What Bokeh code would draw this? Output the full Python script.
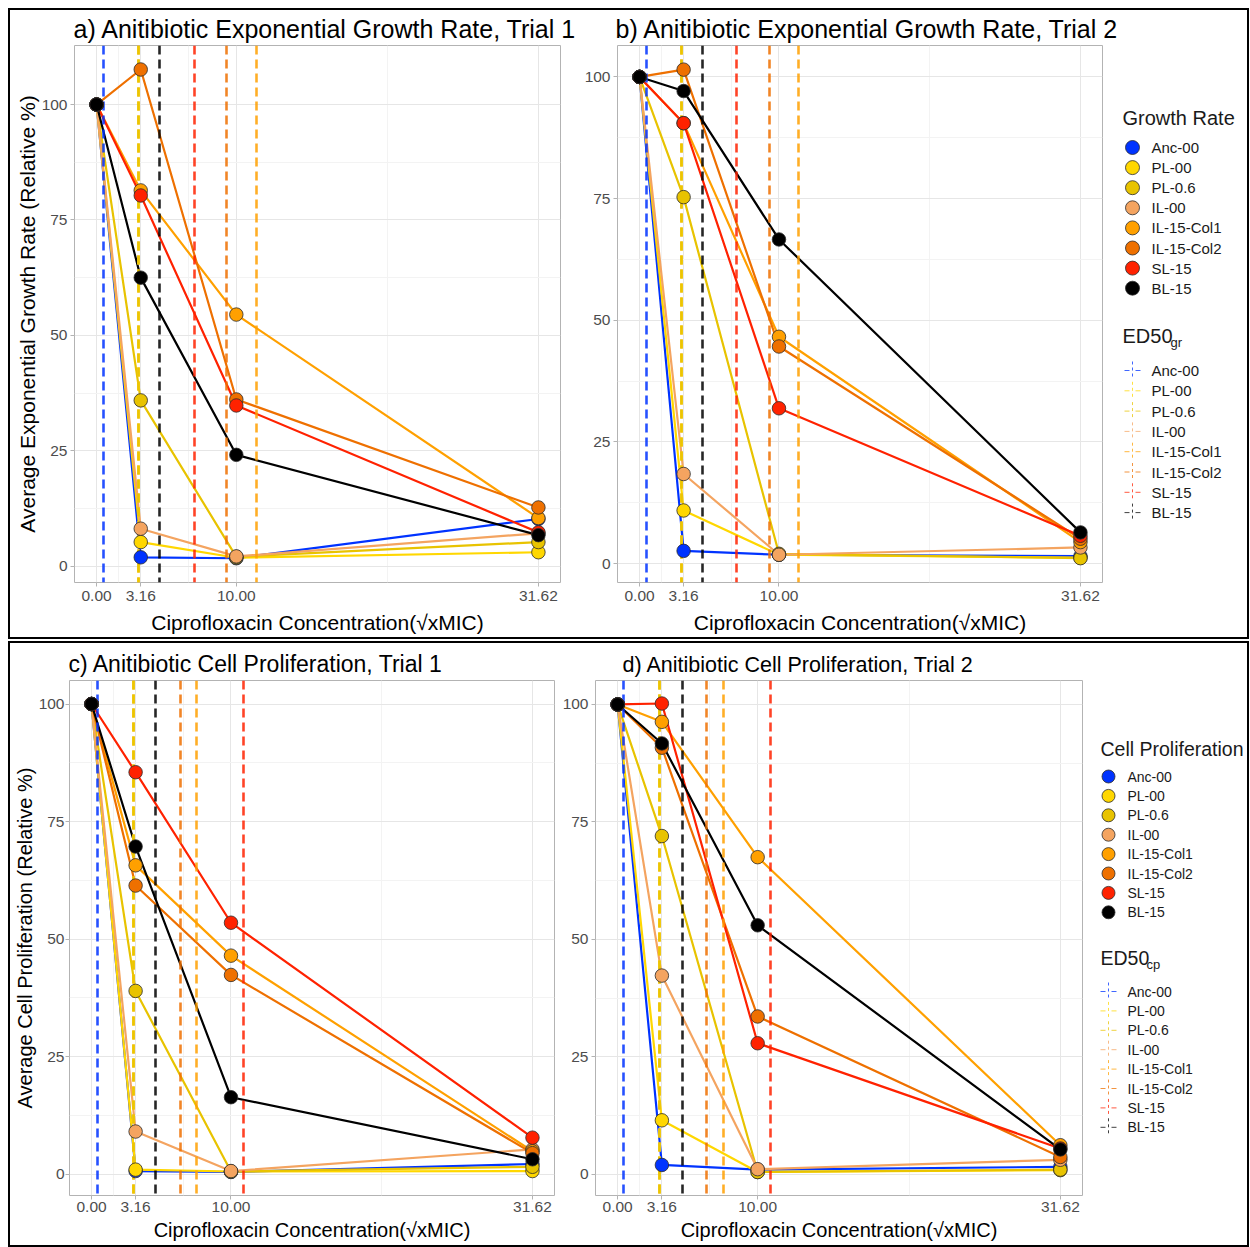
from bokeh.plotting import figure
from bokeh.models import Range1d, FixedTicker, Row, Column, ColumnDataSource, NumeralTickFormatter
from bokeh.embed import file_html
from bokeh.resources import INLINE
from bokeh.core.properties import value

# ---------------- data ----------------
strains = ["Anc-00", "PL-00", "PL-0.6", "IL-00", "IL-15-Col1", "IL-15-Col2", "SL-15", "BL-15"]
colors = ["#0033FF", "#FFD700", "#E8C300", "#F4A460", "#FFA000", "#EE7000", "#FF2200", "#000000"]
conc = [0.0, 3.16, 10.0, 31.62]
x_minor = [1.58, 6.58, 20.81]
y_ticks = [0, 25, 50, 75, 100]
y_minor = [12.5, 37.5, 62.5, 87.5]

# growth rate (relative %), one row per strain, columns = conc
gr_trial1 = [
    [100, 1.9, 1.7, 10.2],
    [100, 5.2, 1.8, 3.0],
    [100, 35.9, 2.0, 5.2],
    [100, 8.1, 2.1, 7.1],
    [100, 81.4, 54.5, 10.4],
    [100, 107.6, 36.1, 12.7],
    [100, 80.3, 34.8, 7.3],
    [100, 62.5, 24.1, 6.7],
]
gr_trial2 = [
    [100, 2.6, 1.8, 1.5],
    [100, 10.9, 1.8, 1.2],
    [100, 75.3, 2.0, 1.1],
    [100, 18.4, 1.8, 3.3],
    [100, 90.5, 46.6, 4.4],
    [100, 101.5, 44.6, 5.1],
    [100, 90.5, 31.9, 5.7],
    [100, 97.1, 66.6, 6.4],
]
cp_trial1 = [
    [100, 0.7, 0.5, 2.2],
    [100, 1.0, 0.6, 0.7],
    [100, 39.0, 0.6, 1.6],
    [100, 9.1, 0.7, 5.3],
    [100, 65.7, 46.5, 4.9],
    [100, 61.4, 42.4, 4.5],
    [100, 85.5, 53.5, 7.8],
    [100, 69.7, 16.4, 3.2],
]
cp_trial2 = [
    [100, 2.0, 1.0, 1.6],
    [100, 11.5, 0.5, 0.9],
    [100, 72.0, 0.5, 1.0],
    [100, 42.3, 1.1, 3.1],
    [100, 96.3, 67.5, 6.2],
    [100, 90.8, 33.6, 3.7],
    [100, 100.2, 27.9, 5.5],
    [100, 91.7, 53.0, 5.3],
]
# ED50 (same strain order)
ed50_gr = [0.47, 2.98, 2.98, 2.98, 11.42, 9.33, 6.98, 4.50]
ed50_cp = [0.40, 2.98, 2.98, 2.98, 7.55, 6.35, 10.92, 4.60]

FONT = "Liberation Sans"
XLABEL = "Ciprofloxacin Concentration(\u221axMIC)"
X_START, X_END = -1.581, 33.201


def panel(title, data, ed50, yr, width, height, mbl, mbr, mbt, mbb, ylabel,
          title_size, title_standoff, title_offset, label_size, tick_size,
          tick_standoff, label_standoff, ytick_standoff):
    p = figure(width=width, height=height,
               x_range=Range1d(X_START, X_END), y_range=Range1d(*yr),
               output_backend="svg", toolbar_location=None,
               min_border_left=mbl, min_border_right=mbr,
               min_border_top=mbt, min_border_bottom=mbb,
               background_fill_color="white", border_fill_color="white")
    p.title.text = title
    p.title.text_font = FONT
    p.title.text_font_size = title_size
    p.title.text_font_style = "normal"
    p.title.text_color = "black"
    p.title.standoff = title_standoff
    p.title.offset = title_offset

    xt = FixedTicker(ticks=conc, minor_ticks=x_minor)
    yt = FixedTicker(ticks=y_ticks, minor_ticks=y_minor)
    p.xaxis.ticker = xt
    p.yaxis.ticker = yt
    p.xgrid.ticker = xt
    p.ygrid.ticker = yt
    p.xaxis.formatter = NumeralTickFormatter(format="0.00")
    for ax in (p.xaxis, p.yaxis):
        ax.axis_line_color = None
        ax.major_tick_line_color = "#B3B3B3"
        ax.major_tick_out = 4
        ax.major_tick_in = 0
        ax.minor_tick_line_color = None
        ax.major_label_text_font = FONT
        ax.major_label_text_font_size = tick_size
        ax.major_label_text_color = "#4D4D4D"
        ax.axis_label_text_font = FONT
        ax.axis_label_text_font_size = label_size
        ax.axis_label_text_font_style = "normal"
        ax.axis_label_text_color = "black"
    p.xaxis.major_label_standoff = tick_standoff
    p.yaxis.major_label_standoff = ytick_standoff
    p.xaxis.axis_label = XLABEL
    p.xaxis.axis_label_standoff = label_standoff
    if ylabel:
        p.yaxis.axis_label = ylabel
        p.yaxis.axis_label_standoff = 0

    p.xgrid.grid_line_color = "#E6E6E6"
    p.ygrid.grid_line_color = "#E6E6E6"
    p.xgrid.minor_grid_line_color = "#F3F3F3"
    p.ygrid.minor_grid_line_color = "#F3F3F3"
    p.outline_line_color = "#B3B3B3"
    p.outline_line_width = 1

    for vals, c in zip(data, colors):
        p.line(conc, vals, line_color=c, line_width=2.2)

    order = [3, 0, 1, 2, 4, 5, 6, 7]
    src = ColumnDataSource(dict(x=[ed50[i] for i in order], c=[colors[i] for i in order]))
    p.vspan(x="x", line_color="c", line_width=2.6, line_dash="9 5", line_alpha=0.85, source=src)

    for vals, c in zip(data, colors):
        p.scatter(conc, vals, size=13.5, fill_color=c, line_color="#2B2B2B", line_width=0.8)
    return p


def legend_fig(width, height, mbt, mbb, title1, sub, tx0, cx, lx, ty1, ey1, dy1, ty2, ey2, dy2,
               title_size, lab_size, csize, sub_dx):
    p = figure(width=width, height=height, x_range=Range1d(0, width),
               y_range=Range1d(height - mbb, mbt),
               output_backend="svg", toolbar_location=None,
               min_border_left=0, min_border_right=0, min_border_top=mbt, min_border_bottom=mbb,
               x_axis_type=None, y_axis_type=None, outline_line_color=None,
               background_fill_color="white", border_fill_color="white")
    p.grid.visible = False
    n = len(strains)
    ys1 = [ey1 + i * dy1 for i in range(n)]
    ys2 = [ey2 + i * dy2 for i in range(n)]
    p.text([tx0], [ty1], text=[title1], text_font=value(FONT), text_font_size=value(title_size),
           text_baseline="middle", text_align="left", text_color="#1A1A1A")
    p.scatter([cx] * n, ys1, size=csize, fill_color=colors, line_color="#2B2B2B", line_width=0.8)
    p.text([lx] * n, ys1, text=strains, text_font=value(FONT), text_font_size=value(lab_size),
           text_baseline="middle", text_align="left", text_color="#1A1A1A")
    p.text([tx0], [ty2], text=["ED50"], text_font=value(FONT), text_font_size=value(title_size),
           text_baseline="middle", text_align="left", text_color="#1A1A1A")
    p.text([tx0 + sub_dx], [ty2 + 7], text=[sub], text_font=value(FONT), text_font_size=value("13px"),
           text_baseline="middle", text_align="left", text_color="#1A1A1A")
    p.segment(x0=[cx - 8] * n, y0=ys2, x1=[cx + 8] * n, y1=ys2, line_color=colors,
              line_width=1, line_dash="5 6", line_alpha=0.75)
    p.segment(x0=[cx] * n, y0=[y - 9 for y in ys2], x1=[cx] * n, y1=[y + 9 for y in ys2],
              line_color=colors, line_width=1, line_dash="3 3", line_alpha=0.75)
    p.text([lx] * n, ys2, text=strains, text_font=value(FONT), text_font_size=value(lab_size),
           text_baseline="middle", text_align="left", text_color="#1A1A1A")
    return p


pa = panel("a) Anitibiotic Exponential Growth Rate, Trial 1", gr_trial1, ed50_gr, (-3.56, 112.8),
           567, 627, 64, 17, 35, 55, "Average Exponential Growth Rate (Relative %)",
           "25px", 5, -1, "21px", "15.5px", 4, 7, 3)
pb = panel("b) Anitibiotic Exponential Growth Rate, Trial 2", gr_trial2, ed50_gr, (-3.9, 106.46),
           543, 627, 40, 18, 35, 55, None, "25px", 5, -2, "21px", "15.5px", 4, 7, 3)
la = legend_fig(127, 627, 35, 55, "Growth Rate", "gr", 2, 12, 31, 107, 137, 20.1, 325, 360, 20.3,
                "20px", "15px", 14, 48)

pc = panel("c) Anitibiotic Cell Proliferation, Trial 1", cp_trial1, ed50_cp, (-4.5, 105.0),
           547, 602, 59, 3, 37, 50, "Average Cell Proliferation (Relative %)",
           "23px", 8, -1, "20px", "15.5px", 2, 4, 1)
pd_ = panel("d) Anitibiotic Cell Proliferation, Trial 2", cp_trial2, ed50_cp, (-4.5, 105.1),
            528, 602, 38, 3, 37, 50, None, "21.5px", 8, 27, "20px", "15.5px", 2, 4, 3)
lb = legend_fig(162, 602, 37, 50, "Cell Proliferation", "cp", 15, 23, 42, 105, 133, 19.4, 314, 348, 19.4,
                "19.5px", "14px", 13, 46)

r1 = Row(children=[pa, pb, la], spacing=0, styles={"border": "2px solid black"})
r2 = Row(children=[pc, pd_, lb], spacing=0, styles={"border": "2px solid black"})
layout = Column(children=[r1, r2], spacing=2, styles={"margin-left": "8px", "margin-top": "8px"})

open("out.html", "w").write(file_html(layout, INLINE))
